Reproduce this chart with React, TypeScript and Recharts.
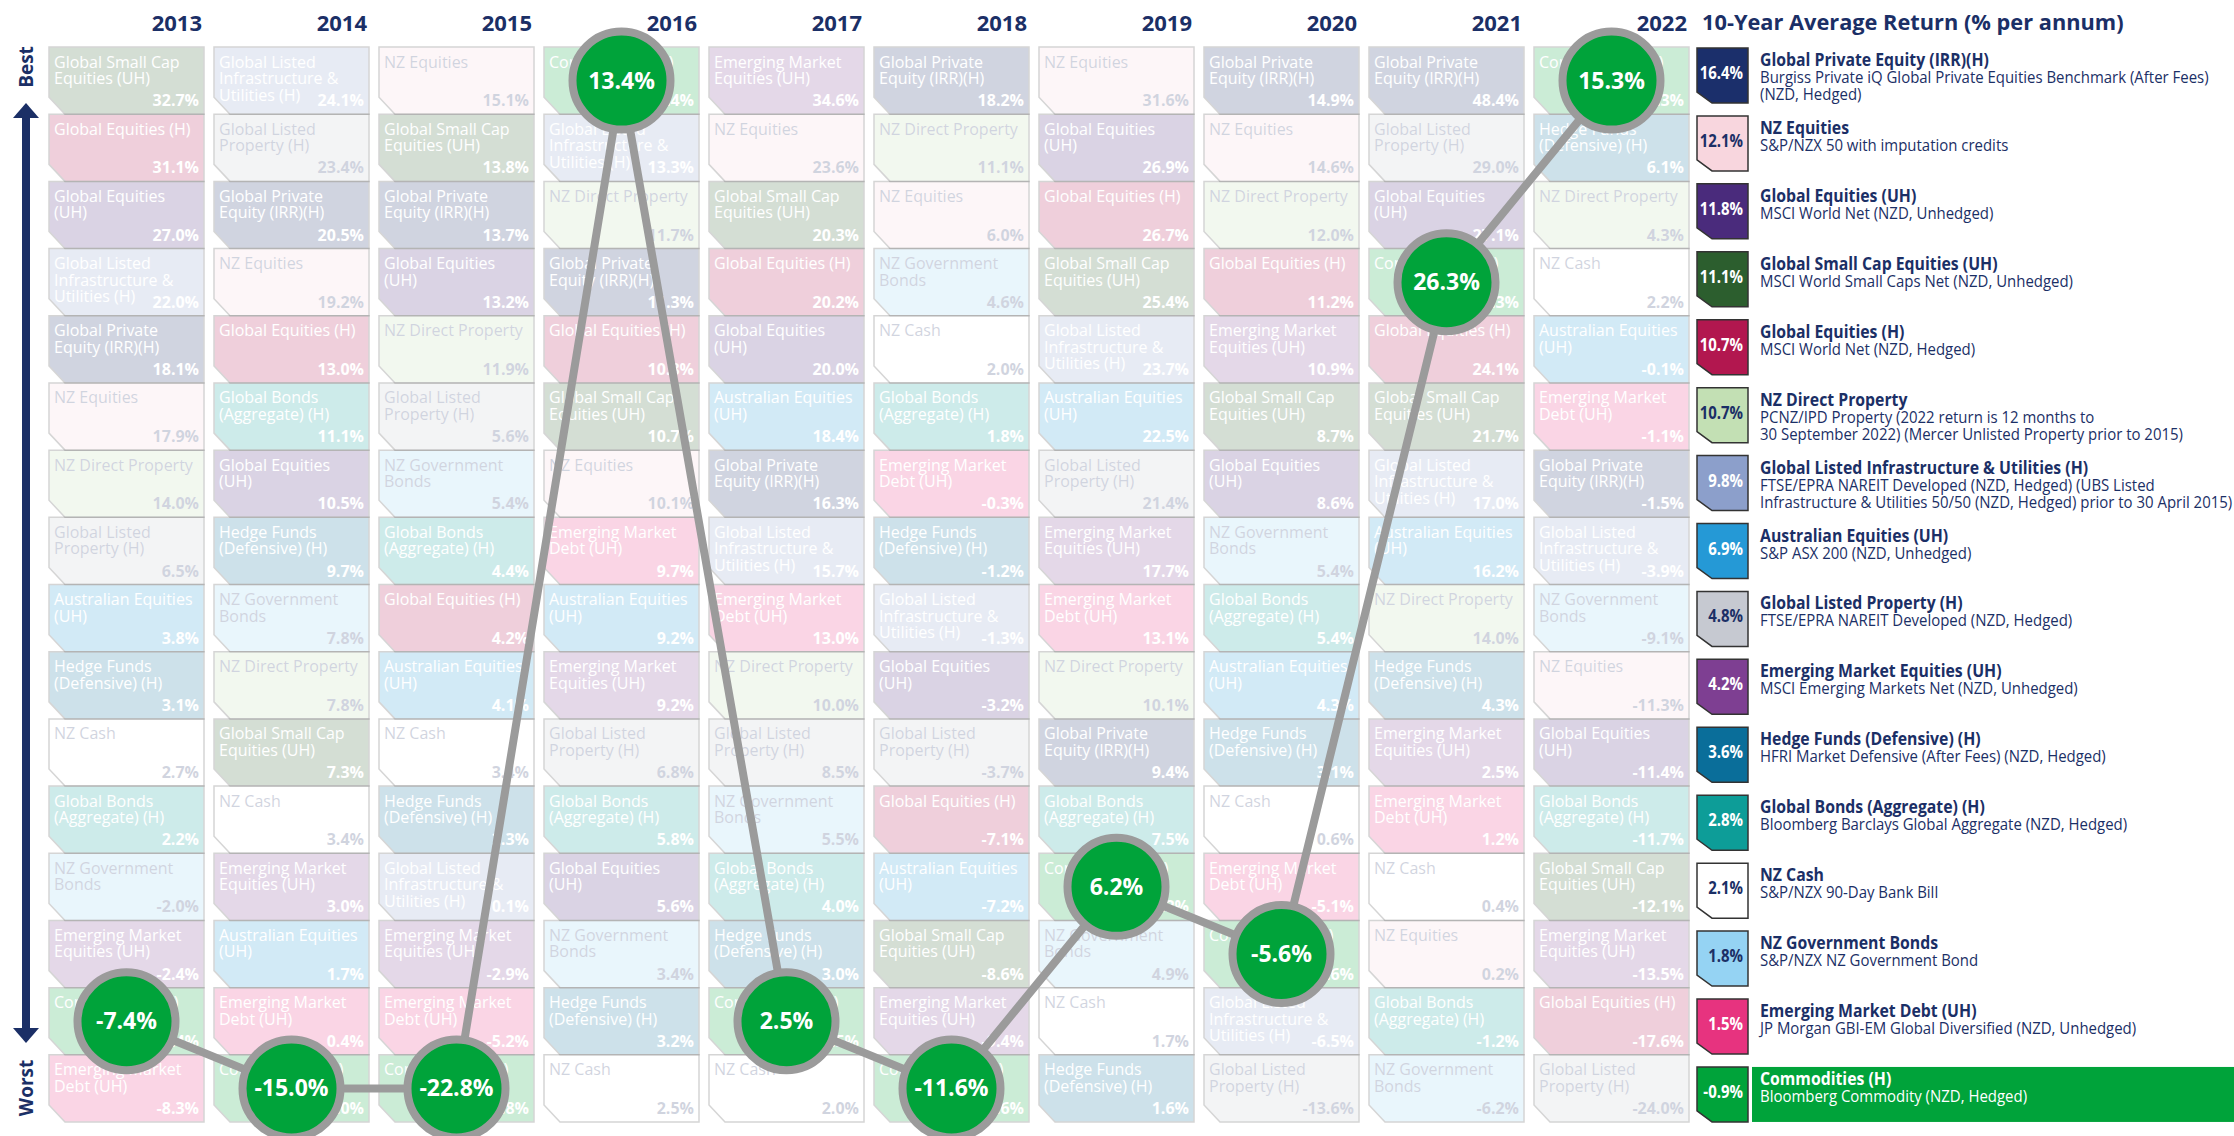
import React from 'react';
import { ScatterChart, Scatter, XAxis, YAxis } from 'recharts';

const years = ['2013', '2014', '2015', '2016', '2017', '2018', '2019', '2020', '2021', '2022'];

const categoryCodes = ['GPE', 'NZE', 'GEU', 'GSC', 'GEH', 'NZP', 'GLI', 'AUE', 'GLP', 'EME', 'HF', 'GB', 'CASH', 'NZGB', 'EMD', 'COM'];

const categoryNames = [
  'Global Private Equity (IRR)(H)', 'NZ Equities', 'Global Equities (UH)', 'Global Small Cap Equities (UH)',
  'Global Equities (H)', 'NZ Direct Property', 'Global Listed Infrastructure & Utilities (H)', 'Australian Equities (UH)',
  'Global Listed Property (H)', 'Emerging Market Equities (UH)', 'Hedge Funds (Defensive) (H)', 'Global Bonds (Aggregate) (H)',
  'NZ Cash', 'NZ Government Bonds', 'Emerging Market Debt (UH)', 'Commodities (H)',
];

const cellLabelLines = [
  ['Global Private', 'Equity (IRR)(H)'], ['NZ Equities'], ['Global Equities', '(UH)'], ['Global Small Cap', 'Equities (UH)'],
  ['Global Equities (H)'], ['NZ Direct Property'], ['Global Listed', 'Infrastructure &', 'Utilities (H)'], ['Australian Equities', '(UH)'],
  ['Global Listed', 'Property (H)'], ['Emerging Market', 'Equities (UH)'], ['Hedge Funds', '(Defensive) (H)'], ['Global Bonds', '(Aggregate) (H)'],
  ['NZ Cash'], ['NZ Government', 'Bonds'], ['Emerging Market', 'Debt (UH)'], ['Commodities (H)'],
];

const benchmarkLines = [
  ['Burgiss Private iQ Global Private Equities Benchmark (After Fees)', '(NZD, Hedged)'],
  ['S&P/NZX 50 with imputation credits'],
  ['MSCI World Net (NZD, Unhedged)'],
  ['MSCI World Small Caps Net (NZD, Unhedged)'],
  ['MSCI World Net (NZD, Hedged)'],
  ['PCNZ/IPD Property (2022 return is 12 months to', '30 September 2022) (Mercer Unlisted Property prior to 2015)'],
  ['FTSE/EPRA NAREIT Developed (NZD, Hedged) (UBS Listed', 'Infrastructure & Utilities 50/50 (NZD, Hedged) prior to 30 April 2015)'],
  ['S&P ASX 200 (NZD, Unhedged)'],
  ['FTSE/EPRA NAREIT Developed (NZD, Hedged)'],
  ['MSCI Emerging Markets Net (NZD, Unhedged)'],
  ['HFRI Market Defensive (After Fees) (NZD, Hedged)'],
  ['Bloomberg Barclays Global Aggregate (NZD, Hedged)'],
  ['S&P/NZX 90-Day Bank Bill'],
  ['S&P/NZX NZ Government Bond'],
  ['JP Morgan GBI-EM Global Diversified (NZD, Unhedged)'],
  ['Bloomberg Commodity (NZD, Hedged)'],
];

const avgReturns = [16.4, 12.1, 11.8, 11.1, 10.7, 10.7, 9.8, 6.9, 4.8, 4.2, 3.6, 2.8, 2.1, 1.8, 1.5, -0.9];

const r2013: [string, number][] = [['GSC', 32.7], ['GEH', 31.1], ['GEU', 27.0], ['GLI', 22.0], ['GPE', 18.1], ['NZE', 17.9], ['NZP', 14.0], ['GLP', 6.5], ['AUE', 3.8], ['HF', 3.1], ['CASH', 2.7], ['GB', 2.2], ['NZGB', -2.0], ['EME', -2.4], ['COM', -7.4], ['EMD', -8.3]];
const r2014: [string, number][] = [['GLI', 24.1], ['GLP', 23.4], ['GPE', 20.5], ['NZE', 19.2], ['GEH', 13.0], ['GB', 11.1], ['GEU', 10.5], ['HF', 9.7], ['NZGB', 7.8], ['NZP', 7.8], ['GSC', 7.3], ['CASH', 3.4], ['EME', 3.0], ['AUE', 1.7], ['EMD', 0.4], ['COM', -15.0]];
const r2015: [string, number][] = [['NZE', 15.1], ['GSC', 13.8], ['GPE', 13.7], ['GEU', 13.2], ['NZP', 11.9], ['GLP', 5.6], ['NZGB', 5.4], ['GB', 4.4], ['GEH', 4.2], ['AUE', 4.1], ['CASH', 3.4], ['HF', 2.3], ['GLI', 0.1], ['EME', -2.9], ['EMD', -5.2], ['COM', -22.8]];
const r2016: [string, number][] = [['COM', 13.4], ['GLI', 13.3], ['NZP', 11.7], ['GPE', 11.3], ['GEH', 10.8], ['GSC', 10.7], ['NZE', 10.1], ['EMD', 9.7], ['AUE', 9.2], ['EME', 9.2], ['GLP', 6.8], ['GB', 5.8], ['GEU', 5.6], ['NZGB', 3.4], ['HF', 3.2], ['CASH', 2.5]];
const r2017: [string, number][] = [['EME', 34.6], ['NZE', 23.6], ['GSC', 20.3], ['GEH', 20.2], ['GEU', 20.0], ['AUE', 18.4], ['GPE', 16.3], ['GLI', 15.7], ['EMD', 13.0], ['NZP', 10.0], ['GLP', 8.5], ['NZGB', 5.5], ['GB', 4.0], ['HF', 3.0], ['COM', 2.5], ['CASH', 2.0]];
const r2018: [string, number][] = [['GPE', 18.2], ['NZP', 11.1], ['NZE', 6.0], ['NZGB', 4.6], ['CASH', 2.0], ['GB', 1.8], ['EMD', -0.3], ['HF', -1.2], ['GLI', -1.3], ['GEU', -3.2], ['GLP', -3.7], ['GEH', -7.1], ['AUE', -7.2], ['GSC', -8.6], ['EME', -9.4], ['COM', -11.6]];
const r2019: [string, number][] = [['NZE', 31.6], ['GEU', 26.9], ['GEH', 26.7], ['GSC', 25.4], ['GLI', 23.7], ['AUE', 22.5], ['GLP', 21.4], ['EME', 17.7], ['EMD', 13.1], ['NZP', 10.1], ['GPE', 9.4], ['GB', 7.5], ['COM', 6.2], ['NZGB', 4.9], ['CASH', 1.7], ['HF', 1.6]];
const r2020: [string, number][] = [['GPE', 14.9], ['NZE', 14.6], ['NZP', 12.0], ['GEH', 11.2], ['EME', 10.9], ['GSC', 8.7], ['GEU', 8.6], ['NZGB', 5.4], ['GB', 5.4], ['AUE', 4.3], ['HF', 3.1], ['CASH', 0.6], ['EMD', -5.1], ['COM', -5.6], ['GLI', -6.5], ['GLP', -13.6]];
const r2021: [string, number][] = [['GPE', 48.4], ['GLP', 29.0], ['GEU', 27.1], ['COM', 26.3], ['GEH', 24.1], ['GSC', 21.7], ['GLI', 17.0], ['AUE', 16.2], ['NZP', 14.0], ['HF', 4.3], ['EME', 2.5], ['EMD', 1.2], ['CASH', 0.4], ['NZE', 0.2], ['GB', -1.2], ['NZGB', -6.2]];
const r2022: [string, number][] = [['COM', 15.3], ['HF', 6.1], ['NZP', 4.3], ['CASH', 2.2], ['AUE', -0.1], ['EMD', -1.1], ['GPE', -1.5], ['GLI', -3.9], ['NZGB', -9.1], ['NZE', -11.3], ['GEU', -11.4], ['GB', -11.7], ['GSC', -12.1], ['EME', -13.5], ['GEH', -17.6], ['GLP', -24.0]];

const yearRankings = [r2013, r2014, r2015, r2016, r2017, r2018, r2019, r2020, r2021, r2022];

// ---- styles (kept apart from data) ----
const FILL: Record<string, string> = {
  GPE: '#1b2f6b', NZE: '#f8d6de', GEU: '#4a2b7c', GSC: '#2c5e2e', GEH: '#b2174f', NZP: '#c3e0b4',
  GLI: '#8c9fcb', AUE: '#2599d6', GLP: '#c6c9d1', EME: '#7e3f92', HF: '#0a6e9a', GB: '#0d9d98',
  CASH: '#ffffff', NZGB: '#95d3f3', EMD: '#e7337f', COM: '#00a33a',
};
const DARK_TEXT = new Set(['NZE', 'NZP', 'GLP', 'CASH', 'NZGB']);
const NAVY = '#1b2f66';
const FONT = "'Open Sans', 'Noto Sans', sans-serif";

const W = 2234;
const H = 1136;
const M = { top: 17, right: 540, bottom: 14, left: 44 };
const X_AXIS_H = 30;
const PLOT_W = W - M.left - M.right;
const PLOT_H = H - M.top - X_AXIS_H - M.bottom;
const COL_W = PLOT_W / years.length;
const ROW_H = PLOT_H / categoryCodes.length;
const CELL_W = COL_W - 10;

const fmt = (v: number) => `${v.toFixed(1)}%`;

const cellData = yearRankings.flatMap((list, yi) =>
  list.map(([code, value], ri) => ({ x: yi, rank: ri + 1, code, value }))
);
const comData = cellData.filter((d) => d.code === 'COM');

const CellShape = (props: any) => {
  const { cx, cy, payload } = props;
  if (cx == null || cy == null || !payload) return null;
  const idx = categoryCodes.indexOf(payload.code);
  const x0 = cx - CELL_W / 2;
  const y0 = cy - ROW_H / 2;
  const w = CELL_W;
  const h = ROW_H;
  const pts = `${x0},${y0} ${x0 + w},${y0} ${x0 + w},${y0 + h} ${x0 + 16},${y0 + h} ${x0},${y0 + h - 17}`;
  const tc = DARK_TEXT.has(payload.code) ? NAVY : '#ffffff';
  return (
    <g opacity={0.2}>
      <polygon points={pts} fill={FILL[payload.code]} stroke="#333333" strokeWidth={1.5} />
      {cellLabelLines[idx].map((ln, i) => (
        <text key={i} x={x0 + 5} y={y0 + 20.5 + i * 16.5} fontSize={16} fill={tc} fontFamily={FONT}>
          {ln}
        </text>
      ))}
      <text x={x0 + w - 5} y={y0 + h - 8} fontSize={16} fontWeight={700} fill={tc} textAnchor="end" fontFamily={FONT}>
        {fmt(payload.value)}
      </text>
    </g>
  );
};

const CircleShape = (props: any) => {
  const { cx, cy, payload } = props;
  if (cx == null || cy == null || !payload) return null;
  return (
    <g>
      <circle cx={cx} cy={cy} r={49} fill="#00a33a" stroke="#9b9b9b" strokeWidth={8} />
      <text x={cx} y={cy + 8} textAnchor="middle" fontSize={23} fontWeight={700} fill="#ffffff" fontFamily={FONT}>
        {fmt(payload.value)}
      </text>
    </g>
  );
};

const YearTick = (props: any) => {
  const { x, payload } = props;
  return (
    <text x={x + CELL_W / 2 - 2} y={31} textAnchor="end" fontSize={22} fontWeight={700} fill={NAVY} fontFamily={FONT}>
      {years[payload.value]}
    </text>
  );
};

const CText = ({ x, y, sx, anchor, children, ...rest }: any) => (
  <text transform={`translate(${x},${y}) scale(${sx},1)`} textAnchor={anchor || 'start'} fontFamily={FONT} {...rest}>
    {children}
  </text>
);

const LEG_TOP = 48;
const LEG_PITCH = 67.93;
const BOX_X = 1697;
const BOX_W = 51;
const BOX_H = 55;
const TEXT_X = 1760;
const SX_NAME = 0.93;
const SX_DESC = 0.88;

const Legend = () => (
  <g>
    <CText x={1702} y={30} sx={0.99} fontSize={22} fontWeight={700} fill={NAVY}>
      10-Year Average Return (% per annum)
    </CText>
    {categoryCodes.map((code, i) => {
      const t = LEG_TOP + i * LEG_PITCH;
      const isCom = code === 'COM';
      const pts = `${BOX_X},${t} ${BOX_X + BOX_W},${t} ${BOX_X + BOX_W},${t + BOX_H} ${BOX_X + 15},${t + BOX_H} ${BOX_X},${t + BOX_H - 11}`;
      const tc = DARK_TEXT.has(code) ? NAVY : '#ffffff';
      const txtCol = isCom ? '#ffffff' : NAVY;
      return (
        <g key={code}>
          {isCom && <rect x={1752} y={t} width={W - 1752} height={BOX_H} fill="#00a33a" />}
          <polygon points={pts} fill={FILL[code]} stroke="#333333" strokeWidth={1.5} />
          <CText x={BOX_X + BOX_W - 5} y={t + 31} sx={0.88} anchor="end" fontSize={17} fontWeight={700} fill={tc}>
            {fmt(avgReturns[i])}
          </CText>
          <CText x={TEXT_X} y={t + 18} sx={SX_NAME} fontSize={17} fontWeight={700} fill={txtCol}>
            {categoryNames[i]}
          </CText>
          {benchmarkLines[i].map((ln, j) => (
            <CText key={j} x={TEXT_X} y={t + 35 + j * 17} sx={SX_DESC} fontSize={17} fill={txtCol}>
              {ln}
            </CText>
          ))}
        </g>
      );
    })}
  </g>
);

const SideArrow = () => (
  <g fill={NAVY}>
    <text transform="translate(33,67) rotate(-90)" textAnchor="middle" fontSize={19} fontWeight={700} fontFamily={FONT}>Best</text>
    <text transform="translate(33,1088) rotate(-90)" textAnchor="middle" fontSize={19} fontWeight={700} fontFamily={FONT}>Worst</text>
    <rect x={22} y={112} width={8} height={920} />
    <polygon points="26,103 39,118 13,118" />
    <polygon points="26,1043 39,1028 13,1028" />
  </g>
);

export default function App() {
  return (
    <div style={{ position: 'absolute', left: 0, top: 0, width: W, height: H, background: '#ffffff', fontFamily: FONT }}>
      <ScatterChart width={W} height={H} margin={M}>
        <XAxis
          type="number"
          dataKey="x"
          domain={[-0.5, 9.5]}
          ticks={[0, 1, 2, 3, 4, 5, 6, 7, 8, 9]}
          interval={0}
          orientation="top"
          height={X_AXIS_H}
          axisLine={false}
          tickLine={false}
          tick={<YearTick />}
        />
        <YAxis type="number" dataKey="rank" domain={[0.5, 16.5]} reversed hide width={0} />
        <Scatter data={cellData} shape={(p: any) => <CellShape {...p} />} isAnimationActive={false} />
        <Scatter
          data={comData}
          shape={(p: any) => <CircleShape {...p} />}
          line={{ stroke: '#9b9b9b', strokeWidth: 8 }}
          lineType="joint"
          isAnimationActive={false}
        />
      </ScatterChart>
      <svg style={{ position: 'absolute', left: 0, top: 0, pointerEvents: 'none' }} width={W} height={H}>
        <SideArrow />
        <Legend />
      </svg>
    </div>
  );
}
